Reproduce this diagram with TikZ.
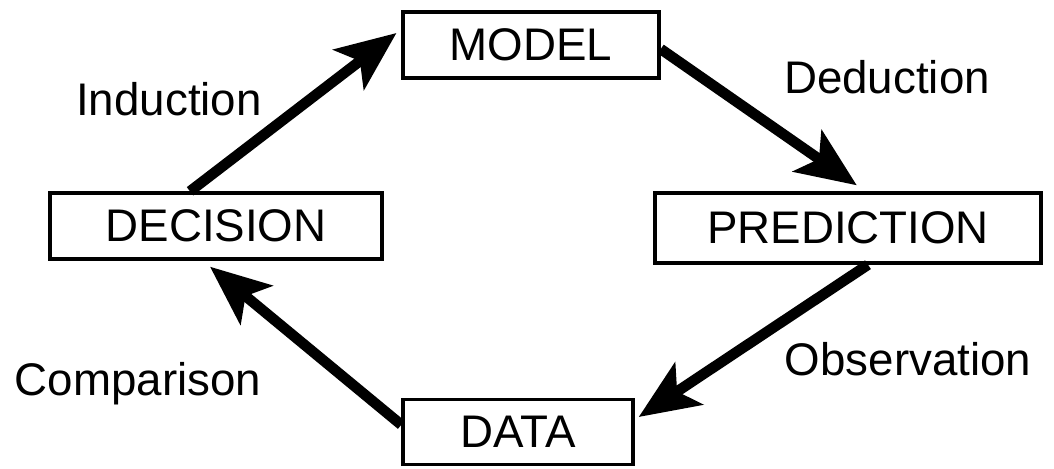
\documentclass[tikz,border=0pt]{standalone}
\usepackage{fontspec}
\setmainfont{Liberation Sans}
\usepackage{tikz}
\usetikzlibrary{arrows.meta,positioning}
\tikzstyle{block}=[draw,line width=2.4pt,rectangle,inner sep=0pt,font=\fontsize{32.5}{39}\selectfont]
\tikzstyle{lbl}=[anchor=base,inner sep=0pt,font=\fontsize{32.5}{39}\selectfont]
\tikzstyle{flow}=[line width=7.5pt,-{Stealth[length=1.5cm,width=1.25cm,inset=0.35cm]}]

\begin{document}
\begin{tikzpicture}[x=0.025cm,y=-0.025cm]
\useasboundingbox (0,0) rectangle (1054,468);
\draw (531, 45) node [block,minimum width=6.4cm,minimum height=1.65cm] (model) {MODEL};
\draw (216, 226) node [block,minimum width=8.3cm,minimum height=1.65cm] (decision) {DECISION};
\draw (848, 228) node [block,minimum width=9.65cm,minimum height=1.75cm] (prediction) {PREDICTION};
\draw (518, 432) node [block,minimum width=5.75cm,minimum height=1.62cm] (data) {DATA};
\draw (169, 115) node [lbl] (induction) {Induction};
\draw (887, 93) node [lbl] (deduction) {Deduction};
\draw (908, 375) node [lbl] (observation) {Observation};
\draw (138, 395) node [lbl] (comparison) {Comparison};
\draw[flow] ([xshift=-0.65cm]decision.north) -- ([xshift=-0.12cm,yshift=0.3cm]model.west);
\draw[flow] ([yshift=-0.1cm]model.east) -- ([xshift=0.22cm,yshift=0.15cm]prediction.north);
\draw[flow] ([xshift=0.5cm]prediction.south) -- ([xshift=0.1cm,yshift=0.375cm]data.east);
\draw[flow] ([yshift=0.18cm]data.west) -- ([xshift=-0.15cm,yshift=-0.15cm]decision.south);
\end{tikzpicture}
\end{document}
